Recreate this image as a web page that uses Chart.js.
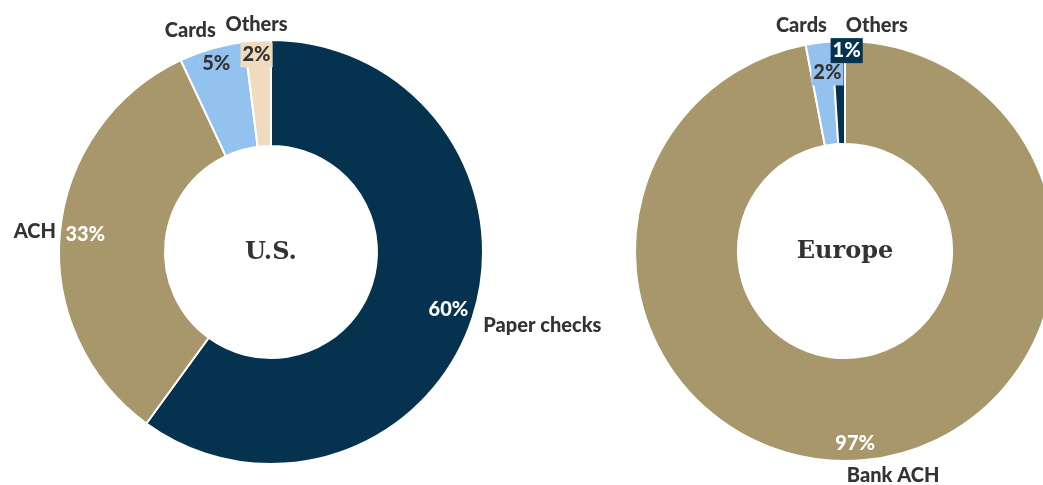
<!DOCTYPE html>
<html>
<head>
<meta charset="utf-8">
<script src="https://cdn.jsdelivr.net/npm/chart.js@4.4.1/dist/chart.umd.min.js"></script>
<style>
  body { margin: 0; background: #fff; }
  .stage { position: relative; width: 1043px; height: 485px; overflow: hidden; }
  .wrap { position: absolute; top: 0; height: 485px; }
  #usWrap { left: 0; width: 640px; }
  #euWrap { left: 585px; width: 520px; }
</style>
</head>
<body>
<div class="stage">
  <div class="wrap" id="usWrap"><canvas id="usChart"></canvas></div>
  <div class="wrap" id="euWrap"><canvas id="euChart"></canvas></div>
</div>
<script>
// data
const usLabels = ["Paper checks", "ACH", "Cards", "Others"];
const usValues = [60, 33, 5, 2];
const euLabels = ["Bank ACH", "Cards", "Others"];
const euValues = [97, 2, 1];

const NAVY = "#04324f";
const KHAKI = "#a8976a";
const BLUE = "#94c2ef";
const BEIGE = "#f0dbbf";
const DARK = "#333333";
const LABEL_FONT = "900 20px Lato";

// label placement per slice: pct radius factor, nudges, name side
const usLabelCfg = [
  { f: 0.88, pctColor: "#fff", nameR: 6, align: "left", nx: 5, ny: 6 },
  { f: 0.88, pctColor: "#fff", nameR: 4, align: "right", nx: 0, ny: 0 },
  { f: 0.925, pctColor: DARK, nameR: 20, align: "center", nx: -16, ny: 1 },
  { f: 0.934, pctColor: DARK, nameR: 18, align: "center", nx: 0, ny: 2, box: BEIGE, px: -2 }
];
const euLabelCfg = [
  { f: 0.92, pctColor: "#fff", nameR: 15, align: "center", nx: 27, ny: 1, px: -8 },
  { f: 0.857, pctColor: DARK, nameR: 18, align: "center", nx: -15, ny: 1, box: BLUE, px: 5 },
  { f: 0.957, pctColor: "#fff", nameR: 18, align: "center", nx: 39, ny: 2, box: NAVY, px: 8 }
];

// draws % labels, names and the center title
const sliceLabels = {
  id: "sliceLabels",
  afterDatasetsDraw(chart, args, opts) {
    const ctx = chart.ctx;
    const meta = chart.getDatasetMeta(0);
    const values = chart.data.datasets[0].data;
    const names = chart.data.labels;
    ctx.save();
    ctx.textBaseline = "middle";
    meta.data.forEach((arc, i) => {
      const p = arc.getProps(["x", "y", "startAngle", "endAngle", "outerRadius"], true);
      const mid = (p.startAngle + p.endAngle) / 2;
      const c = opts.cfg[i];
      const r = p.outerRadius * c.f;
      const px = p.x + Math.cos(mid) * r + (c.px || 0);
      const py = p.y + Math.sin(mid) * r;
      const txt = values[i] + "%";
      ctx.font = LABEL_FONT;
      ctx.textAlign = "center";
      if (c.box) {
        const w = ctx.measureText(txt).width + 4;
        ctx.fillStyle = c.box;
        ctx.fillRect(px - w / 2, py - 12, w, 25);
      }
      ctx.fillStyle = c.pctColor;
      ctx.fillText(txt, px, py);

      const nr = p.outerRadius + c.nameR;
      const nx = p.x + Math.cos(mid) * nr + c.nx;
      const ny = p.y + Math.sin(mid) * nr + c.ny;
      ctx.textAlign = c.align;
      ctx.fillStyle = DARK;
      ctx.fillText(names[i], nx, ny);
    });
    const a = meta.data[0];
    ctx.font = "bold 24px 'DejaVu Serif'";
    ctx.textAlign = "center";
    ctx.fillStyle = DARK;
    ctx.fillText(opts.title, a.x, a.y + 1);
    ctx.restore();
  }
};

function makeDonut(id, labels, values, colors, radius, cutout, padding, title, cfg) {
  new Chart(document.getElementById(id), {
    type: "doughnut",
    data: {
      labels: labels,
      datasets: [{
        data: values,
        backgroundColor: colors,
        borderColor: "#fff",
        borderWidth: 2
      }]
    },
    options: {
      responsive: true,
      maintainAspectRatio: false,
      animation: false,
      radius: radius,
      cutout: cutout,
      layout: { padding: padding },
      plugins: {
        legend: { display: false },
        tooltip: { enabled: false },
        sliceLabels: { title: title, cfg: cfg }
      }
    },
    plugins: [sliceLabels]
  });
}

makeDonut("usChart", usLabels, usValues, [NAVY, KHAKI, BLUE, BEIGE], 212, "50%",
  { left: 0, right: 98, top: 19, bottom: 0 }, "U.S.", usLabelCfg);
makeDonut("euChart", euLabels, euValues, [KHAKI, BLUE, NAVY], 210, "51%",
  { left: 0, right: 0, top: 17, bottom: 0 }, "Europe", euLabelCfg);
</script>
</body>
</html>
